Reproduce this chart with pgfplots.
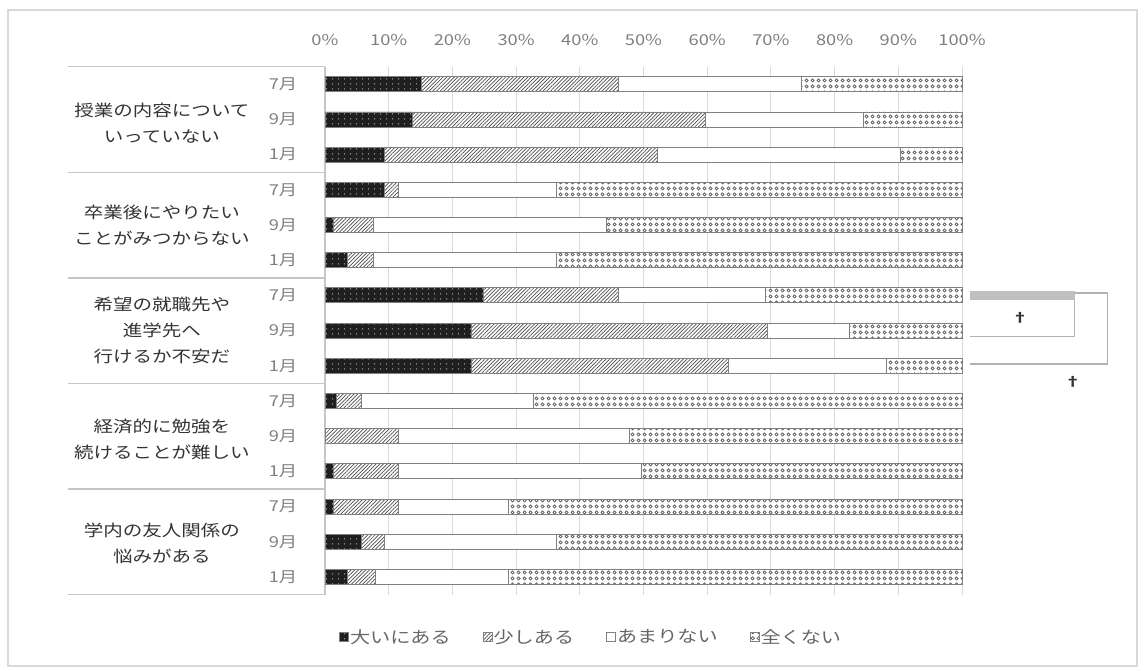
\documentclass[border=0pt]{standalone}
\usepackage{fontspec}
\setmainfont{Noto Sans CJK JP}[FakeStretch=1.22]
\usepackage{pgfplots}
\pgfplotsset{compat=1.18}
\usepackage{pgfplotstable}
\usetikzlibrary{patterns.meta}

\definecolor{tk}{HTML}{7F7F7F}
\definecolor{gridc}{HTML}{D9D9D9}
\definecolor{edge}{HTML}{808080}
\definecolor{leg}{HTML}{666666}
\definecolor{darkbar}{HTML}{1F1F1F}

\tikzdeclarepattern{
  name=wdots, type=uncolored,
  bottom left={(0pt,0pt)}, top right={(6pt,5pt)}, tile size={(6pt,5pt)},
  code={\pgfpathcircle{\pgfqpoint{3pt}{2.5pt}}{0.8pt}\pgfusepath{fill}}
}
\tikzdeclarepattern{
  name=rings, type=uncolored,
  bottom left={(0pt,0pt)}, top right={(6pt,6pt)}, tile size={(6pt,6pt)},
  code={\pgfsetlinewidth{0.8pt}\pgfpathcircle{\pgfqpoint{3pt}{3pt}}{1.8pt}\pgfusepath{stroke}}
}

\pgfplotsset{
  leg/.style={legend image code/.code={\draw[##1] (0pt,-4.5pt) rectangle (9pt,4.5pt);}}
}

% rows: y=15 is the top row (7月 of first group)
\pgfplotstableread{
y  a     b     c     d
15 15.1  30.9  28.8  25.2
14 13.7  46.0  24.8  15.5
13 9.4   42.8  38.1  9.7
12 9.4   2.1   24.8  63.7
11 1.4   6.2   36.6  55.8
10 3.6   4.0   28.7  63.7
9  24.8  21.2  23.1  30.9
8  23.0  46.4  13.0  17.6
7  23.0  40.3  24.8  11.9
6  1.8   4.0   26.9  67.3
5  0.0   11.5  36.3  52.2
4  1.4   10.1  38.1  50.4
3  1.4   10.1  17.3  71.2
2  5.8   3.6   26.9  63.7
1  3.6   4.3   20.9  71.2
}\datatable

\begin{document}
\begin{tikzpicture}
\useasboundingbox (0pt,0pt) rectangle (1145pt,671pt);
\draw[gray!30, line width=1.2pt] (8pt,5pt) rectangle (1137pt,661pt);
\begin{axis}[
  at={(325pt,76.4pt)}, anchor=south west,
  scale only axis, width=637pt, height=527.9pt,
  xbar stacked, bar width=15pt,
  xmin=0, xmax=100, ymin=0.5, ymax=15.5,
  axis line style={draw=none},
  xmajorgrids, grid style={draw=gridc, line width=0.9pt},
  xtick={0,10,...,100}, xticklabel pos=upper,
  xticklabel={\pgfmathprintnumber{\tick}\%},
  x tick label style={font=\fontsize{15}{15}\selectfont, text=tk, anchor=center, yshift=26.7pt},
  major tick length=0pt,
  ytick={1,...,15},
  yticklabels={1月,9月,7月,1月,9月,7月,1月,9月,7月,1月,9月,7月,1月,9月,7月},
  y tick label style={font=\fontsize{15}{15}\selectfont, text=tk, anchor=center, xshift=-42pt},
  /pgf/number format/assume math mode=true,
  clip=false,
  legend style={at={(axis description cs:0.417,-0.08)}, anchor=center,
    legend columns=-1, draw=none, fill=none,
    font=\fontsize{16.5}{17}\selectfont, text=leg,
    /tikz/every even column/.append style={column sep=31pt},
    nodes={inner sep=1pt}},
]
\addplot[leg, fill=darkbar, draw=edge, line width=0.9pt,
  postaction={pattern color=white!70!black, pattern=wdots}] table[x=a,y=y]{\datatable};
\addplot[leg, fill=white, draw=edge, line width=0.9pt,
  postaction={pattern color=black!70, pattern={Lines[angle=45,distance=2.6pt,line width=0.7pt]}}] table[x=b,y=y]{\datatable};
\addplot[leg, fill=white, draw=edge, line width=0.9pt] table[x=c,y=y]{\datatable};
\addplot[leg, fill=white, draw=edge, line width=0.9pt,
  postaction={pattern color=black!65, pattern=rings}] table[x=d,y=y]{\datatable};
\legend{大いにある,少しある,あまりない,全くない}

% category table
\draw[gray!45, line width=1.4pt] (axis cs:-40.3,15.5) -- (axis cs:0,15.5);
\draw[gray!45, line width=1.4pt] (axis cs:-40.3,12.5) -- (axis cs:0,12.5);
\draw[gray!45, line width=1.4pt] (axis cs:-40.3,9.5) -- (axis cs:0,9.5);
\draw[gray!45, line width=1.4pt] (axis cs:-40.3,6.5) -- (axis cs:0,6.5);
\draw[gray!45, line width=1.4pt] (axis cs:-40.3,3.5) -- (axis cs:0,3.5);
\draw[gray!45, line width=1.4pt] (axis cs:-40.3,0.5) -- (axis cs:0,0.5);
\draw[gray!45, line width=1.2pt] (axis cs:0,15.5) -- (axis cs:0,0.5);

\node[align=center, font=\fontsize{16}{26}\selectfont, text=black!80] at (axis cs:-25.6,13.9) {授業の内容について\\いっていない};
\node[align=center, font=\fontsize{16}{26}\selectfont, text=black!80] at (axis cs:-25.6,11) {卒業後にやりたい\\ことがみつからない};
\node[align=center, font=\fontsize{16}{26}\selectfont, text=black!80] at (axis cs:-25.6,8) {希望の就職先や\\進学先へ\\行けるか不安だ};
\node[align=center, font=\fontsize{16}{26}\selectfont, text=black!80] at (axis cs:-25.6,4.9) {経済的に勉強を\\続けることが難しい};
\node[align=center, font=\fontsize{16}{26}\selectfont, text=black!80] at (axis cs:-25.6,1.95) {学内の友人関係の\\悩みがある};

% stray bracket on the right
\fill[gray!50] (axis cs:101.3,9.13) rectangle (axis cs:117.7,8.87);
\draw[gray!60, line width=1.2pt] (axis cs:101.3,9.07) -- (axis cs:122.8,9.07) -- (axis cs:122.8,7.05) -- (axis cs:101.3,7.05);
\draw[gray!60, line width=1.2pt] (axis cs:101.3,7.83) -- (axis cs:117.7,7.83) -- (axis cs:117.7,9.07);
\node[font=\fontsize{13}{13}\selectfont\bfseries, text=black!80] at (axis cs:109.1,8.36) {†};
\node[font=\fontsize{13}{13}\selectfont\bfseries, text=black!80] at (axis cs:117.4,6.54) {†};
\end{axis}
\end{tikzpicture}
\end{document}
